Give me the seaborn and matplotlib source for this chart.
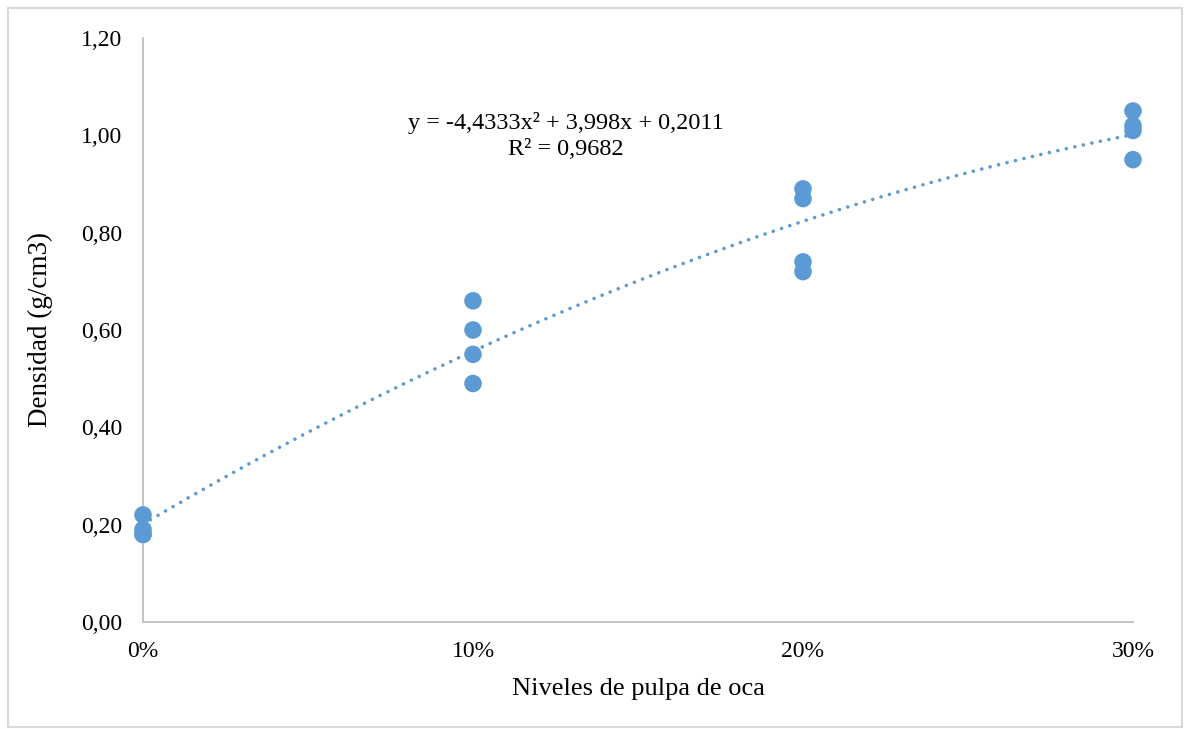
import numpy as np
import pandas as pd
import matplotlib
matplotlib.use("Agg")
import matplotlib.pyplot as plt
import seaborn as sns
from matplotlib.patches import Rectangle

# Data
levels = [0.0, 0.0, 0.0, 0.0,
          0.10, 0.10, 0.10, 0.10,
          0.20, 0.20, 0.20, 0.20,
          0.30, 0.30, 0.30, 0.30]
density = [0.22, 0.19, 0.18, 0.18,
           0.66, 0.60, 0.55, 0.49,
           0.89, 0.87, 0.74, 0.72,
           1.05, 1.02, 1.01, 0.95]
trend_coef = [-4.4333, 3.998, 0.2011]
equation_text = "y = -4,4333x² + 3,998x + 0,2011"
r2_text = "R² = 0,9682"
x_ticks = [0.0, 0.10, 0.20, 0.30]
x_tick_labels = ["0%", "10%", "20%", "30%"]
y_ticks = [0.0, 0.2, 0.4, 0.6, 0.8, 1.0, 1.2]
y_tick_labels = ["0,00", "0,20", "0,40", "0,60", "0,80", "1,00", "1,20"]

df = pd.DataFrame({"nivel": levels, "densidad": density})

sns.set_theme(style="white")
plt.rcParams["font.family"] = ["Liberation Serif", "DejaVu Serif"]

color = "#5B9BD5"
grey = "#BFBFBF"

fig = plt.figure(figsize=(11.86, 7.29), dpi=100)
ax = fig.add_axes([143/1186, 1 - 622/729, (1133-143)/1186, (622-38)/729])

# border around chart
fig.patches.append(Rectangle((8/1186, 2/729), 1174/1186, 719/729,
                             transform=fig.transFigure, fill=False,
                             edgecolor="#D9D9D9", linewidth=1.5))

# trendline
xs = np.linspace(0, 0.3, 300)
ys = np.polyval(trend_coef, xs)
ax.plot(xs, ys, linestyle=(0, (0.01, 2.4)), color=color, linewidth=2.6, zorder=2,
        dash_capstyle="round", solid_capstyle="round")

sns.scatterplot(data=df, x="nivel", y="densidad", ax=ax, color=color,
                s=160, edgecolor="none", zorder=3, legend=False, clip_on=False)

ax.set_xlim(0, 0.3)
ax.set_ylim(0, 1.2)
ax.set_xticks(x_ticks)
ax.set_xticklabels(x_tick_labels, fontsize=17)
ax.set_yticks(y_ticks)
ax.set_yticklabels(y_tick_labels, fontsize=17)
ax.tick_params(axis="both", direction="out", length=5, width=1.2, color=grey,
               labelcolor="black")
ax.tick_params(axis="x", pad=9)
ax.tick_params(axis="y", pad=10)

for s in ["top", "right"]:
    ax.spines[s].set_visible(False)
for s in ["left", "bottom"]:
    ax.spines[s].set_color(grey)
    ax.spines[s].set_linewidth(1.3)

ax.set_xlabel("Niveles de pulpa de oca", fontsize=19, color="black", labelpad=11)
ax.set_ylabel("Densidad (g/cm3)", fontsize=19.5, color="black", labelpad=20)

ax.text(0.128, 1.025, equation_text, ha="center", va="center", fontsize=17.5,
        color="black")
ax.text(0.128, 0.970, r2_text, ha="center", va="center", fontsize=17.5,
        color="black")

fig.savefig("out.png", dpi=100)
